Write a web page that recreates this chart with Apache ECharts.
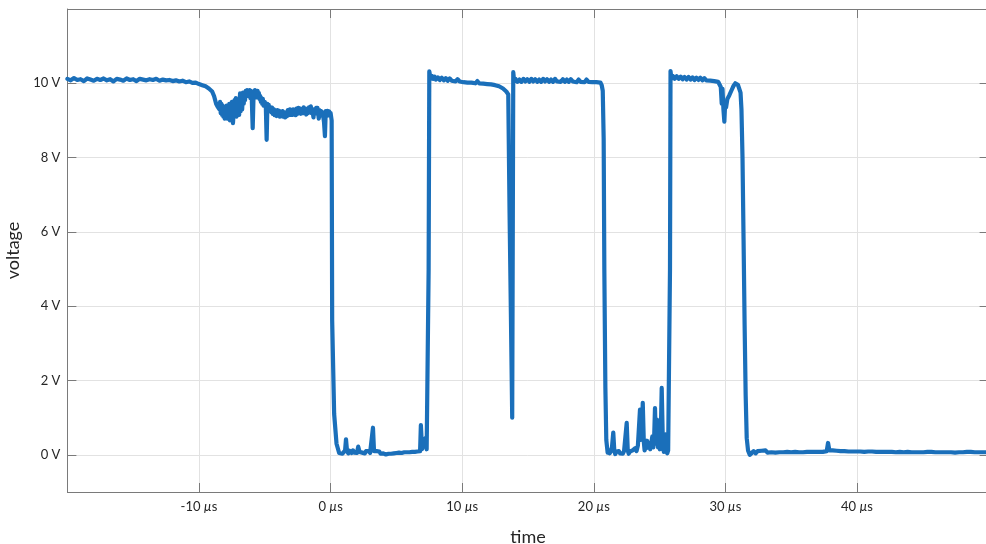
<!DOCTYPE html>
<html><head><meta charset="utf-8">
<script src="https://cdn.jsdelivr.net/npm/echarts@6/dist/echarts.min.js"></script>
<style>html,body{margin:0;padding:0;background:#fff}#c{width:986px;height:544px}</style>
</head><body><div id="c"></div><script>
// ---- tick labels ----
const xTickValues = [-10, 0, 10, 20, 30, 40];
const yTickValues = [0, 2, 4, 6, 8, 10];
const xAxisName = 'time';
const yAxisName = 'voltage';

// ---- signal, [time in µs, voltage in V] ----
const segHighStart = [[-20,10.12],[-19.75,10.08],[-19.5,10.14],[-19.25,10.09],[-19,10.11],[-18.75,10.06],[-18.5,10.13],[-18.25,10.10],[-18,10.07],[-17.75,10.12],[-17.5,10.09],[-17.25,10.13],[-17,10.08],[-16.75,10.11],[-16.5,10.05],[-16.25,10.12],[-16,10.10],[-15.75,10.07],[-15.5,10.13],[-15.25,10.09],[-15,10.11],[-14.75,10.06],[-14.5,10.12],[-14.25,10.10],[-14,10.08],[-13.75,10.11],[-13.5,10.09],[-13.25,10.12],[-13,10.07],[-12.75,10.10],[-12.5,10.08],[-12.25,10.09],[-12,10.06]];
const segDroop = [[-11.75,10.08],[-11.5,10.05],[-11.25,10.07],[-11,10.03],[-10.75,10.05],[-10.5,10.01],[-10.25,10.02],[-10,9.98],[-9.75,9.95],[-9.5,9.92],[-9.25,9.86],[-9,9.78],[-8.85,9.65],[-8.7,9.45],[-8.6,9.38],[-8.5,9.42]];
const segNoisy = [[-8.45,9.3],[-8.4,9.5],[-8.35,9.2],[-8.3,9.45],[-8.25,9.15],[-8.2,9.4],[-8.15,9.1],[-8.1,9.35],[-8.05,9.05],[-8.0,9.3],[-7.95,9.1],[-7.9,9.4],[-7.85,9.05],[-7.8,9.35],[-7.75,9.1],[-7.7,9.45],[-7.65,9.0],[-7.6,9.35],[-7.55,9.1],[-7.5,9.5],[-7.42,8.93],[-7.35,9.3],[-7.3,9.55],[-7.25,9.15],[-7.2,9.6],[-7.15,9.1],[-7.1,9.5],[-7.05,9.2],[-7.0,9.55],[-6.95,9.15],[-6.88,9.73],[-6.83,9.25],[-6.78,9.6],[-6.72,9.3],[-6.66,9.75],[-6.6,9.45],[-6.55,9.75],[-6.5,9.55],[-6.45,9.8],[-6.4,9.65],[-6.35,9.82],[-6.3,9.68],[-6.25,9.8],[-6.2,9.65],[-6.15,9.82],[-6.1,9.6],[-6.05,9.8],[-6.0,9.7],[-5.92,8.79],[-5.85,9.75],[-5.8,9.65],[-5.75,9.82],[-5.7,9.68],[-5.65,9.78],[-5.6,9.62],[-5.55,9.8],[-5.5,9.66],[-5.45,9.74],[-5.4,9.58],[-5.35,9.66],[-5.3,9.5],[-5.25,9.6],[-5.2,9.45],[-5.15,9.58],[-5.1,9.4],[-5.0,9.5],[-4.92,9.35],[-4.86,8.48],[-4.8,9.45],[-4.75,9.3],[-4.7,9.42],[-4.65,9.25],[-4.6,9.35],[-4.5,9.22],[-4.45,9.35],[-4.4,9.18],[-4.3,9.3],[-4.25,9.14],[-4.2,9.26],[-4.1,9.12],[-4.05,9.28],[-4.0,9.14],[-3.9,9.26],[-3.85,9.1],[-3.8,9.22],[-3.7,9.12],[-3.65,9.25],[-3.6,9.1],[-3.5,9.22],[-3.45,9.08],[-3.4,9.2],[-3.3,9.12],[-3.25,9.28],[-3.2,9.14],[-3.1,9.3],[-3.05,9.15],[-3.0,9.26],[-2.9,9.15],[-2.85,9.3],[-2.8,9.16],[-2.7,9.28],[-2.65,9.14],[-2.6,9.32],[-2.5,9.18],[-2.45,9.34],[-2.4,9.2],[-2.3,9.32],[-2.25,9.18],[-2.2,9.3],[-2.1,9.2],[-2.05,9.35],[-2.0,9.2],[-1.9,9.32],[-1.85,9.16],[-1.8,9.3],[-1.7,9.2],[-1.65,9.35],[-1.6,9.22],[-1.5,9.38],[-1.45,9.2],[-1.4,9.3],[-1.3,9.08],[-1.25,9.3],[-1.2,9.18],[-1.1,9.34],[-1.05,9.2],[-1.0,9.34],[-0.9,9.05],[-0.85,9.28],[-0.8,9.15],[-0.7,9.25],[-0.65,9.12],[-0.6,9.22],[-0.5,8.95],[-0.43,8.58],[-0.37,9.25],[-0.3,9.12],[-0.25,9.26],[-0.2,9.15],[-0.1,9.24],[-0.05,9.12],[0.0,9.2]];
const segLow1 = [[0.08,9.0],[0.12,3.6],[0.27,1.1],[0.45,0.3],[0.65,0.05],[0.8,0.1],[0.9,0.03],[1.0,0.08],[1.1,0.12],[1.17,0.42],[1.25,0.1],[1.35,0.04],[1.45,0.11],[1.6,0.05],[1.7,0.12],[1.8,0.06],[1.9,0.1],[2.0,0.05],[2.1,0.22],[2.2,0.08],[2.3,0.12],[2.4,0.06],[2.5,0.1],[2.6,0.04],[2.7,0.1],[2.8,0.06],[2.9,0.11],[3.0,0.05],[3.15,0.1],[3.22,0.73],[3.3,0.1],[3.4,0.05],[3.5,0.1],[3.6,0.05],[3.7,0.09],[3.8,0.03],[3.9,0.08],[4.0,0.04],[4.1,0.07],[4.2,0.01],[4.3,0.06],[4.4,0.03],[4.5,0.07],[4.6,0.03],[4.7,0.08],[4.8,0.04],[4.9,0.09],[5.0,0.05],[5.1,0.1],[5.2,0.06],[5.3,0.1],[5.4,0.05],[5.5,0.1],[5.6,0.07],[5.7,0.12],[5.8,0.07],[5.9,0.11],[6.0,0.07],[6.1,0.12],[6.2,0.08],[6.3,0.13],[6.4,0.08],[6.5,0.13],[6.6,0.09],[6.7,0.14],[6.8,0.1],[6.86,0.8],[6.95,0.15],[7.05,0.1],[7.1,0.14],[7.2,0.45],[7.3,0.15],[7.4,0.13]];
const segHigh2 = [[7.45,5.0],[7.5,10.32],[7.6,10.12],[7.7,10.2],[7.8,10.12],[7.9,10.18],[8.0,10.1],[8.15,10.16],[8.3,10.09],[8.45,10.15],[8.6,10.08],[8.75,10.14],[8.9,10.07],[9.05,10.13],[9.2,10.07],[9.35,10.12],[9.5,10.05],[9.65,10.11],[9.8,10.05],[9.95,10.1],[10.1,10.03],[10.25,10.08],[10.4,10.02],[10.55,10.07],[10.7,10.02],[10.85,10.07],[11.0,10.0],[11.15,10.06],[11.3,10.0],[11.45,10.05],[11.6,9.99],[11.75,10.03],[11.9,9.98],[12.05,10.02],[12.2,9.97],[12.35,10.0],[12.5,9.95],[12.65,9.97],[12.8,9.92],[12.95,9.93],[13.1,9.86],[13.2,9.85],[13.35,9.78],[13.5,9.7],[13.6,6.5],[13.7,3.8],[13.8,1.0],[13.88,10.3],[13.95,10.05],[14.05,10.12],[14.2,10.04],[14.35,10.1],[14.5,10.04],[14.65,10.12],[14.8,10.05],[14.95,10.11],[15.1,10.04],[15.25,10.12],[15.4,10.05],[15.55,10.11],[15.7,10.04],[15.85,10.1],[16.0,10.04],[16.15,10.12],[16.3,10.05],[16.45,10.11],[16.6,10.04],[16.75,10.1],[16.9,10.04],[17.05,10.12],[17.2,10.05],[17.35,10.1],[17.5,10.04],[17.65,10.11],[17.8,10.04],[17.95,10.1],[18.1,10.04],[18.25,10.11],[18.4,10.05],[18.55,10.1],[18.7,10.03],[18.85,10.1],[19.0,10.04],[19.15,10.09],[19.3,10.03],[19.45,10.1],[19.6,10.04],[19.75,10.09],[19.9,10.03],[20.05,10.08],[20.2,10.03],[20.35,10.06],[20.5,10.02],[20.6,9.95],[20.68,9.8],[20.75,8.5],[20.8,5.0],[20.88,1.8],[20.95,0.4],[21.05,0.06]];
const segLow2 = [[21.12,0.12],[21.2,0.04],[21.3,0.1],[21.38,0.2],[21.48,0.6],[21.56,0.1],[21.63,0.02],[21.7,0.08],[21.8,0.03],[21.9,0.1],[22.0,0.04],[22.1,0.09],[22.2,0.03],[22.3,0.1],[22.42,0.15],[22.5,0.86],[22.58,0.12],[22.65,0.03],[22.75,0.09],[22.85,0.04],[22.95,0.12],[23.05,0.08],[23.15,0.18],[23.25,0.1],[23.35,0.25],[23.45,0.3],[23.51,1.22],[23.58,0.4],[23.66,0.6],[23.72,1.4],[23.8,0.35],[23.86,0.12],[23.92,0.3],[24.0,0.18],[24.05,0.38],[24.1,0.2],[24.2,0.32],[24.28,0.15],[24.35,0.28],[24.45,0.5],[24.52,0.2],[24.58,0.4],[24.65,1.26],[24.72,0.3],[24.8,0.95],[24.88,0.2],[24.95,0.6],[25.02,0.15],[25.08,0.4],[25.16,1.8],[25.25,0.3],[25.32,0.08],[25.38,0.25],[25.45,0.55],[25.52,0.1],[25.58,0.04],[25.65,0.12],[25.74,0.08]];
const segHigh3 = [[25.79,5.0],[25.83,10.33],[25.9,10.12],[26.0,10.2],[26.15,10.12],[26.3,10.19],[26.45,10.12],[26.6,10.18],[26.75,10.11],[26.9,10.17],[27.05,10.1],[27.2,10.17],[27.35,10.1],[27.5,10.16],[27.65,10.09],[27.8,10.15],[27.95,10.09],[28.1,10.15],[28.25,10.08],[28.4,10.14],[28.55,10.08],[28.7,10.13],[28.85,10.07],[29.0,10.12],[29.15,10.06],[29.3,10.1],[29.45,10.04],[29.55,10.06],[29.65,9.9],[29.72,9.45],[29.78,9.85],[29.85,9.3],[29.92,8.97],[29.98,9.45],[30.05,9.35],[30.15,9.58],[30.3,9.68],[30.45,9.8],[30.6,9.92],[30.75,10.0],[30.85,10.02],[30.95,9.96],[31.05,9.92],[31.15,9.75],[31.22,9.3],[31.3,8.0],[31.38,5.8],[31.46,3.5],[31.54,1.6],[31.62,0.45],[31.72,0.12],[31.85,0.0],[32.0,0.04]];
const segLowEnd = [[32.15,0.1],[32.3,0.04],[32.45,0.1],[32.6,0.05],[32.75,0.11],[32.9,0.06],[33.05,0.12],[33.2,0.06],[33.35,0.11],[33.5,0.07],[33.65,0.12],[33.8,0.06],[33.95,0.11],[34.1,0.07],[34.25,0.12],[34.4,0.07],[34.55,0.12],[34.7,0.08],[34.85,0.12],[35.0,0.07],[35.15,0.12],[35.3,0.08],[35.45,0.12],[35.6,0.07],[35.75,0.12],[35.9,0.07],[36.05,0.12],[36.2,0.08],[36.35,0.12],[36.5,0.08],[36.65,0.13],[36.8,0.08],[36.95,0.12],[37.1,0.08],[37.25,0.12],[37.4,0.08],[37.55,0.12],[37.7,0.1],[37.8,0.32],[37.9,0.12],[38.0,0.08],[38.15,0.12],[38.3,0.07],[38.45,0.11],[38.6,0.07],[38.75,0.1],[38.9,0.05],[39.05,0.1],[39.2,0.06],[39.35,0.09],[39.5,0.05],[39.65,0.09],[39.8,0.05],[39.95,0.09],[40.1,0.05],[40.25,0.09],[40.4,0.04],[40.55,0.08],[40.7,0.04],[40.85,0.09],[41.0,0.05],[41.15,0.09],[41.3,0.05],[41.45,0.08],[41.6,0.04],[41.75,0.08],[41.9,0.04],[42.05,0.08],[42.2,0.04],[42.35,0.08],[42.5,0.04],[42.65,0.08],[42.8,0.03],[42.95,0.07],[43.1,0.03],[43.25,0.08],[43.4,0.04],[43.55,0.07],[43.7,0.03],[43.85,0.08],[44.0,0.04],[44.15,0.07],[44.3,0.02],[44.45,0.07],[44.6,0.03],[44.75,0.07],[44.9,0.03],[45.05,0.07],[45.2,0.04],[45.35,0.08],[45.5,0.04],[45.65,0.08],[45.8,0.04],[45.95,0.07],[46.1,0.03],[46.25,0.07],[46.4,0.02],[46.55,0.07],[46.7,0.03],[46.85,0.07],[47.0,0.03],[47.15,0.07],[47.3,0.03],[47.45,0.06],[47.6,0.03],[47.75,0.07],[47.9,0.03],[48.05,0.07],[48.2,0.04],[48.35,0.08],[48.5,0.04],[48.65,0.08],[48.8,0.03],[48.95,0.07],[49.1,0.03],[49.25,0.07],[49.4,0.03],[49.55,0.07],[49.7,0.03],[49.85,0.07],[50.0,0.04]];

const signal = [].concat(segHighStart, segDroop, segNoisy, segLow1, segHigh2, segLow2, segHigh3, segLowEnd);

const FONT = 'Lato, "DejaVu Sans", sans-serif';
const AX = '#7a7a7a';
const TXT = '#262626';
const chart = echarts.init(document.getElementById('c'), null, {renderer: 'canvas'});
const option = {
  animation: false,
  backgroundColor: '#fff',
  grid: {left: 67.4, top: 9, right: -2.6, bottom: 52, containLabel: false, outerBoundsMode: 'none'},
  xAxis: [{
    type: 'value', min: -20, max: 50, interval: 10, position: 'bottom',
    name: xAxisName, nameLocation: 'middle', nameGap: 36,
    nameTextStyle: {fontFamily: FONT, fontSize: 18, color: TXT},
    axisLine: {show: true, onZero: false, lineStyle: {color: AX, width: 1}},
    axisTick: {show: true, inside: true, length: 9, lineStyle: {color: AX}},
    splitLine: {show: true, lineStyle: {color: '#e2e2e2', width: 1}},
    axisLabel: {
      margin: 8, color: TXT, fontFamily: FONT, fontSize: 13,
      formatter: v => xTickValues.includes(v) ? '{n|' + v + ' }{u|µ}{n|s}' : '',
      rich: {n: {fontFamily: FONT, fontSize: 13, color: TXT}, u: {fontFamily: FONT, fontSize: 13, color: TXT, fontStyle: 'italic'}}
    }
  }, {
    type: 'value', min: -20, max: 50, interval: 10, position: 'top',
    axisLine: {show: true, onZero: false, lineStyle: {color: AX, width: 1}},
    axisTick: {show: true, inside: true, length: 9, lineStyle: {color: AX}},
    splitLine: {show: false}, axisLabel: {show: false}
  }],
  yAxis: [{
    type: 'value', min: -1, max: 12, position: 'left',
    name: yAxisName, nameLocation: 'middle', nameGap: 40, nameRotate: 90,
    nameTextStyle: {fontFamily: FONT, fontSize: 18, color: TXT},
    axisLine: {show: true, onZero: false, lineStyle: {color: AX, width: 1}},
    axisTick: {show: true, inside: true, length: 9, lineStyle: {color: AX}, customValues: yTickValues},
    splitLine: {show: true, lineStyle: {color: '#e2e2e2', width: 1}},
    axisLabel: {customValues: yTickValues, margin: 7, color: TXT, fontFamily: FONT, fontSize: 13, formatter: v => v + ' V'}
  }, {
    type: 'value', min: -1, max: 12, position: 'right',
    axisLine: {show: true, onZero: false, lineStyle: {color: AX, width: 1}},
    axisTick: {show: true, inside: true, length: 9, lineStyle: {color: AX}, customValues: yTickValues},
    splitLine: {show: false}, axisLabel: {show: false, customValues: yTickValues}
  }],
  series: [{
    type: 'line', xAxisIndex: 0, yAxisIndex: 0, data: signal,
    showSymbol: false, symbol: 'none', sampling: null, smooth: false,
    lineStyle: {color: '#1a6fba', width: 4.2, join: 'round', cap: 'round'},
    emphasis: {disabled: true}
  }]
};
chart.setOption(option);
</script></body></html>
